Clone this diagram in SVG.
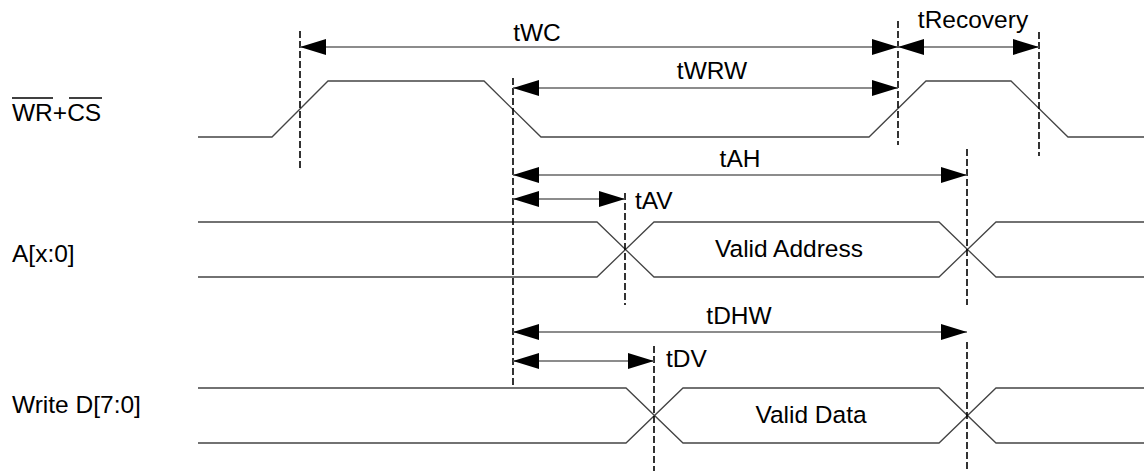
<svg xmlns="http://www.w3.org/2000/svg" width="1144" height="471" viewBox="0 0 1144 471">
<defs>
<style>
text{font-family:"Liberation Sans",Arial,sans-serif;font-size:24.5px;fill:#000}
.sig{fill:none;stroke:#444;stroke-width:1.3}
.dash{fill:none;stroke:#000;stroke-width:1.6;stroke-dasharray:7,3}
.dim{fill:none;stroke:#666;stroke-width:1.6;marker-end:url(#ah);marker-start:url(#ah)}
.mid{text-anchor:middle}
</style>
<marker id="ah" markerUnits="userSpaceOnUse" markerWidth="26" markerHeight="16" refX="26" refY="8" orient="auto-start-reverse" viewBox="0 0 26 16">
<path d="M0,0 L26,8 L0,16 Z" fill="#000"/>
</marker>
</defs>
<rect width="1144" height="471" fill="#fff"/>

<g id="label-wrcs">
<text x="12" y="121">WR+CS</text>
<line x1="12" y1="98" x2="53" y2="98" stroke="#000" stroke-width="1.5"/>
<line x1="69" y1="98" x2="102" y2="98" stroke="#000" stroke-width="1.5"/>
</g>
<g id="label-addr"><text x="12" y="262">A[x:0]</text></g>
<g id="label-data"><text x="12" y="413">Write D[7:0]</text></g>

<g id="signal-wrcs">
<path class="sig" d="M198,137 L272,137 L328,81 L484,81 L541,137 L869,137 L926,81 L1011,81 L1068,137 L1144,137"/>
</g>
<g id="signal-addr">
<path class="sig" d="M198,222 L597,222 L654,277 L939,277 L996,222 L1144,222"/>
<path class="sig" d="M198,277 L597,277 L654,222 L939,222 L996,277 L1144,277"/>
<text class="mid" x="789" y="257">Valid Address</text>
</g>
<g id="signal-data">
<path class="sig" d="M198,388 L626,388 L683,443 L939,443 L996,388 L1144,388"/>
<path class="sig" d="M198,443 L626,443 L683,388 L939,388 L996,443 L1144,443"/>
<text class="mid" x="811" y="423">Valid Data</text>
</g>

<g id="guides">
<line class="dash" x1="300" y1="31" x2="300" y2="170"/>
<line class="dash" x1="513" y1="78" x2="513" y2="387"/>
<line class="dash" x1="898" y1="21" x2="898" y2="145"/>
<line class="dash" x1="1039" y1="32" x2="1039" y2="156"/>
<line class="dash" x1="625" y1="193" x2="625" y2="305"/>
<line class="dash" x1="967" y1="149" x2="967" y2="305"/>
<line class="dash" x1="654" y1="346" x2="654" y2="471"/>
<line class="dash" x1="967" y1="342" x2="967" y2="471"/>
</g>

<g id="connectors">
<line class="dim" x1="300" y1="47" x2="898" y2="47"/>
<line class="dim" x1="898" y1="47" x2="1039" y2="47"/>
<line class="dim" x1="513" y1="88" x2="898" y2="88"/>
<line class="dim" x1="513" y1="175" x2="967" y2="175"/>
<line class="dim" x1="513" y1="199" x2="625" y2="199"/>
<line class="dim" x1="513" y1="332" x2="967" y2="332"/>
<line class="dim" x1="513" y1="361" x2="654" y2="361"/>
</g>

<g id="timing-labels">
<text class="mid" x="537" y="41">tWC</text>
<text class="mid" x="973" y="28">tRecovery</text>
<text class="mid" x="712" y="79">tWRW</text>
<text class="mid" x="740" y="167">tAH</text>
<text x="635" y="209">tAV</text>
<text class="mid" x="739" y="324">tDHW</text>
<text x="666" y="367">tDV</text>
</g>
</svg>
